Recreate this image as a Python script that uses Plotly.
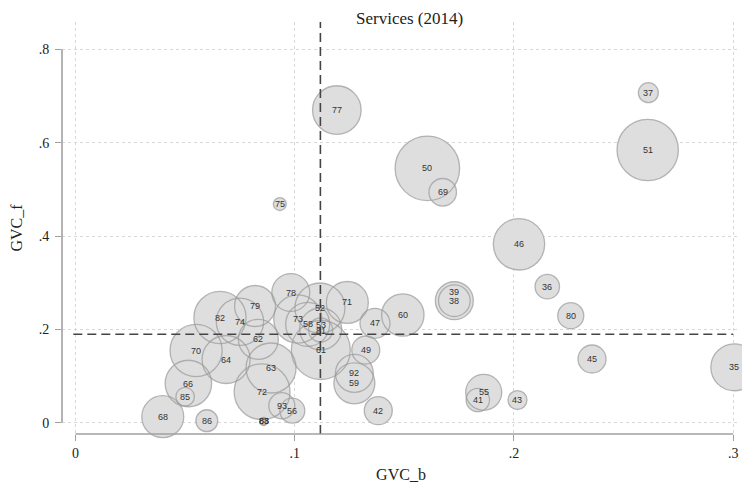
import plotly.graph_objects as go

# ---- data ----
labels = ["35", "36", "37", "38", "39", "41", "42", "43", "45", "46", "47", "49",
          "50", "51", "52", "53", "55", "56", "58", "59", "60", "61", "62", "63",
          "64", "66", "68", "69", "70", "71", "72", "73", "74", "75", "77", "78",
          "79", "80", "81", "82", "83", "85", "86", "88", "92", "93"]
gvc_b = [0.3005, 0.2152, 0.2613, 0.1728, 0.1728, 0.1835, 0.1381, 0.2016, 0.2356, 0.2023, 0.1366, 0.1324,
         0.1605, 0.2610, 0.1115, 0.1118, 0.1862, 0.0989, 0.1059, 0.1272, 0.1493, 0.1119, 0.0834, 0.0892,
         0.0687, 0.0515, 0.0398, 0.1675, 0.0550, 0.1240, 0.0851, 0.1014, 0.0750, 0.0932, 0.1192, 0.0982,
         0.0819, 0.2259, 0.1118, 0.0659, 0.0858, 0.0500, 0.0599, 0.0858, 0.1272, 0.0941]
gvc_f = [0.1187, 0.2914, 0.7071, 0.2614, 0.2614, 0.0486, 0.0257, 0.0486, 0.1365, 0.3823, 0.2130, 0.1558,
         0.5451, 0.5843, 0.2458, 0.2008, 0.0651, 0.0257, 0.2108, 0.0844, 0.2308, 0.1558, 0.1787, 0.1172,
         0.1354, 0.0840, 0.0129, 0.4937, 0.1547, 0.2576, 0.0664, 0.2222, 0.2164, 0.4686, 0.6700, 0.2790,
         0.2501, 0.2293, 0.1986, 0.2254, 0.0026, 0.0557, 0.0043, 0.0026, 0.1058, 0.0364]
weight = [5.5, 1.5, 1.0, 2.5, 3.6, 1.37, 1.96, 0.9, 1.96, 6.6, 2.25, 1.96,
          10.4, 9.4, 6.25, 4.4, 3.24, 1.56, 4.84, 4.2, 4.5, 8.7, 4.0, 6.25,
          5.76, 5.4, 4.4, 1.9, 6.8, 4.4, 7.8, 5.8, 5.6, 0.42, 5.9, 3.6,
          4.2, 1.7, 1.44, 6.8, 0.12, 0.86, 1.2, 0.16, 3.6, 1.7]

x_ticks = [0, 0.1, 0.2, 0.3]
x_ticklabels = ["0", ".1", ".2", ".3"]
y_ticks = [0, 0.2, 0.4, 0.6, 0.8]
y_ticklabels = ["0", ".2", ".4", ".6", ".8"]

mean_b = 0.1117   # vertical reference line
mean_f = 0.1894   # horizontal reference line

# ---- style ----
SERIF = "Liberation Serif, Times New Roman, serif"
FILL = "#dedede"
EDGE = "#9a9a9a"
AXIS = "#a0a0a0"
GRID = "#d8d8d8"
label_shift = {"39": 9, "53": 4, "81": -1}
SIZEREF = 1 / 200

fig = go.Figure()

# fills first, outlines on top so every circle edge is visible
fig.add_trace(go.Scatter(
    x=gvc_b, y=gvc_f, mode="markers", hoverinfo="skip", cliponaxis=False,
    marker=dict(size=weight, sizemode="area", sizeref=SIZEREF, color=FILL,
                line=dict(width=0), opacity=1),
))
fig.add_trace(go.Scatter(
    x=gvc_b, y=gvc_f, mode="markers", hoverinfo="skip", cliponaxis=False,
    marker=dict(size=weight, sizemode="area", sizeref=SIZEREF, color="rgba(0,0,0,0)",
                line=dict(width=1.3, color=EDGE)),
))

for lab, xv, yv in zip(labels, gvc_b, gvc_f):
    fig.add_annotation(x=xv, y=yv, text=lab, showarrow=False,
                       yshift=label_shift.get(lab, 0),
                       font=dict(family="Liberation Sans, Arial, sans-serif", size=9, color="#333333"))

# reference lines
fig.add_shape(type="line", x0=mean_b, x1=mean_b, y0=0, y1=1, xref="x", yref="paper",
              line=dict(color="#444444", width=1.6, dash="9px,5px"), layer="above")
fig.add_shape(type="line", x0=-0.001, x1=0.3, y0=mean_f, y1=mean_f, xref="x", yref="y",
              line=dict(color="#444444", width=1.6, dash="9px,5px"), layer="above")

# axis lines spanning the tick range only (Stata style)
fig.add_shape(type="line", x0=0, x1=0.3, y0=0, y1=0, xref="x", yref="paper",
              line=dict(color=AXIS, width=1.6))
fig.add_shape(type="line", x0=0, x1=0, y0=0, y1=0.8, xref="paper", yref="y",
              line=dict(color=AXIS, width=1.6))

# title as annotation at a fixed place above the plot
fig.add_annotation(text="Services (2014)", x=0.512, xref="paper", xanchor="center",
                   y=1.0097, yref="paper", yanchor="middle", showarrow=False,
                   font=dict(family=SERIF, size=17, color="#222222"))

# the page body adds an 8px offset, so the figure is sized/margined to compensate
fig.update_layout(
    template="none",
    width=742, height=475,
    margin=dict(l=54, r=10, t=14, b=49, autoexpand=False),
    paper_bgcolor="white", plot_bgcolor="white",
    showlegend=False,
    font=dict(family=SERIF, color="#222222"),
)
fig.update_xaxes(
    range=[-0.00616, 0.3031], tickvals=x_ticks, ticktext=x_ticklabels,
    ticks="outside", ticklen=6, tickwidth=1.3, tickcolor=AXIS,
    tickfont=dict(family=SERIF, size=14, color="#222222"),
    showgrid=True, gridcolor=GRID, griddash="dot", gridwidth=1,
    zeroline=False, showline=False, automargin=False,
    title=dict(text="GVC_b", font=dict(family=SERIF, size=16, color="#222222"), standoff=9),
)
fig.update_yaxes(
    range=[-0.0242, 0.8586], tickvals=y_ticks, ticktext=y_ticklabels,
    ticks="outside", ticklen=6, tickwidth=1.3, tickcolor=AXIS,
    tickfont=dict(family=SERIF, size=14, color="#222222"),
    showgrid=True, gridcolor=GRID, griddash="dot", gridwidth=1,
    zeroline=False, showline=False, automargin=False, ticklabelstandoff=3,
    title=dict(text="GVC_f", font=dict(family=SERIF, size=16, color="#222222"), standoff=12),
)

fig.write_html("out.html")
